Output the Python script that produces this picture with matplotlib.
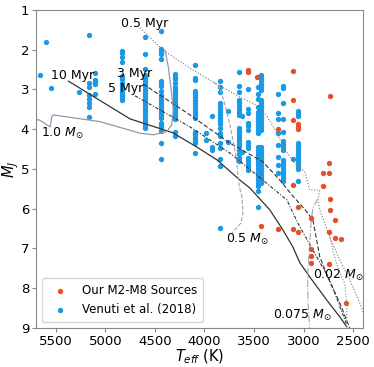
import numpy as np
import matplotlib
matplotlib.use("Agg")
from matplotlib import pyplot as plt

# Our M2-M8 sources (Teff in K, absolute J mag)
our_teff = [3559, 3559, 3468, 3108, 2738, 3108, 3262, 3111, 3061, 3061, 3061,
            2740, 2804, 2740, 2807, 3110, 2735, 3055, 2738, 2924, 2678, 3431,
            3262, 3111, 3055, 2742, 2678, 2624, 2924, 2924, 2927, 2742, 2567]
our_mj = [2.51, 2.56, 2.68, 2.53, 3.17, 3.26, 3.99, 3.77, 3.87, 3.94, 3.99,
          4.84, 5.11, 5.09, 5.42, 5.40, 5.75, 5.95, 6.03, 6.23, 6.28, 6.43,
          6.52, 6.52, 6.58, 6.58, 6.74, 6.77, 7.02, 7.18, 7.37, 7.39, 8.38]

# Venuti et al. (2018): one temperature per column of points
ven_teff = [5658, 5598, 5547, 5265, 5167, 5101, 4832, 4600, 4439, 4297, 4099,
            3985, 3928, 3847, 3844, 3766, 3652, 3619, 3559, 3464, 3431, 3262,
            3209, 3105, 3058]
ven_mj = [
    [2.64],
    [1.81],
    [2.96],
    [3.06],
    [1.62, 2.84, 2.94, 3.13, 3.25, 3.35, 3.45, 3.68],
    [2.59, 2.76, 2.82, 2.87, 3.12],
    [2.02, 2.09, 2.19, 2.32, 2.66, 2.74, 2.84, 2.91, 2.99, 3.06, 3.14, 3.20, 3.26],
    [1.67, 2.11, 2.49, 2.64, 2.71, 2.79, 2.86, 2.94, 3.01, 3.09, 3.16, 3.24, 3.31,
     3.39, 3.46, 3.54, 3.62, 3.69, 3.77, 3.84, 3.92, 3.97],
    [1.52, 1.99, 2.06, 2.11, 2.24, 2.79, 2.84, 2.91, 3.04, 3.14, 3.19, 3.26, 3.34,
     3.41, 3.49, 3.57, 3.64, 3.72, 3.84, 3.89, 3.95, 4.04, 4.34, 4.76],
    [2.62, 2.68, 2.74, 2.84, 2.93, 2.99, 3.06, 3.14, 3.21, 3.29, 3.36, 3.44, 3.52,
     3.59, 3.67, 3.74, 4.06, 4.17],
    [2.39, 2.70, 2.76, 3.04, 3.11, 3.19, 3.26, 3.34, 3.41, 3.49, 3.57, 3.64, 3.72,
     4.06, 4.12, 4.19, 4.24, 4.29, 4.35, 4.59],
    [4.09, 4.27],
    [3.67, 4.44, 4.52],
    [2.79, 2.94, 3.06, 3.34, 3.41, 3.49, 3.57, 3.64, 3.72, 3.79, 3.87, 3.97, 4.10,
     4.18, 4.35, 4.48, 4.76, 4.92],
    [6.48],
    [3.54, 4.31],
    [2.55, 2.91, 3.06, 3.26, 3.34, 3.41, 3.49, 3.57, 3.64, 3.97, 4.04, 4.12, 4.19,
     4.27, 4.35, 4.42, 4.52, 4.62, 4.72, 4.81],
    [3.67, 4.57],
    [3.00, 3.49, 3.59, 3.84, 3.93, 4.02, 4.31, 4.40, 4.48, 4.72, 4.80, 4.87, 4.95, 5.02],
    [2.93, 3.12, 3.25, 3.43, 3.56, 3.64, 3.72, 3.79, 3.87, 3.94, 4.02, 4.10, 4.44,
     4.52, 4.60, 4.67, 4.75, 4.82, 4.90, 4.97, 5.05, 5.13, 5.20, 5.28, 5.35, 5.44,
     5.55, 5.95],
    [2.64, 2.71, 2.79, 2.86, 2.94, 3.01, 3.26, 3.34, 3.41, 3.49, 3.57, 3.64, 3.72,
     3.79, 3.87, 3.94, 4.02, 4.44, 4.52, 4.60, 4.67, 4.75, 4.82, 4.90, 4.97, 5.05,
     5.13, 5.20, 5.28, 5.36],
    [3.12, 3.60, 3.75, 4.10, 4.40, 4.69, 4.90, 5.11],
    [2.91, 2.97, 3.33, 3.74, 4.06, 4.29, 4.37, 4.45, 4.52, 4.77, 4.85, 4.92, 5.00,
     5.07, 5.15, 5.23, 5.31],
    [4.75],
    [3.54, 3.60, 3.67, 4.34, 4.41, 4.48, 4.55, 4.62, 4.70, 4.77, 4.85, 4.92, 5.00, 5.31],
]

# isochrones
iso05_teff = [4650, 4418, 4116, 3914, 3642, 3441, 3370, 3269, 3189, 3088, 2987,
              2937, 2836, 2856, 2836, 2735, 2634, 2534, 2433, 2352]
iso05_mj = [1.45, 2.01, 2.51, 2.81, 3.19, 3.44, 3.67, 4.09, 4.52, 4.85, 5.08,
            5.53, 5.53, 5.78, 6.03, 6.71, 7.29, 7.79, 8.37, 8.92]
iso3_teff = [4620, 4146, 3743, 3410, 3239, 3118, 2977, 2957, 2906, 2836, 2735, 2634, 2534]
iso3_mj = [2.86, 3.64, 4.35, 4.82, 5.28, 5.65, 6.05, 6.11, 6.28, 7.21, 7.84, 8.37, 9.00]
iso5_teff = [4701, 4146, 3743, 3410, 3168, 3058, 2906, 2735, 2564]
iso5_mj = [3.16, 3.94, 4.60, 5.28, 5.78, 6.36, 7.04, 7.79, 8.92]
iso10_teff = [5373, 4751, 4318, 4076, 3874, 3642, 3541, 3340, 3209, 3108, 3037,
              2936, 2765, 2634, 2564]
iso10_mj = [2.79, 3.74, 4.09, 4.45, 4.77, 5.28, 5.48, 6.03, 6.53, 6.96, 7.36,
            7.72, 8.30, 8.72, 8.97]

# mass tracks
m10_teff = [4398, 4365, 4331, 4315, 4331, 4381, 4516, 4650, 5053, 5524, 5540, 5557, 5665, 5800]
m10_mj = [2.01, 2.43, 3.10, 3.52, 3.89, 4.06, 4.14, 4.10, 3.81, 3.64, 3.68, 3.94, 3.77, 3.70]
m05_teff = [3914, 3844, 3793, 3743, 3683, 3649, 3622, 3612, 3632, 3693, 3723]
m05_mj = [2.81, 2.94, 3.39, 3.89, 4.65, 5.44, 5.70, 6.11, 6.36, 6.53, 6.61]
m0075_teff = [2856, 2906, 2927, 2937, 2957, 2957, 2937]
m0075_mj = [5.75, 5.98, 6.41, 6.91, 7.54, 8.30, 9.05]
m002_teff = [2735, 2695, 2634, 2584, 2564, 2564]
m002_mj = [6.71, 7.14, 7.62, 7.89, 8.37, 9.05]

ven_x = []
ven_y = []
for t, col in zip(ven_teff, ven_mj):
    for m in col:
        ven_x.append(t)
        ven_y.append(m)

fig = plt.figure(figsize=(3.74, 3.67), dpi=100)
ax = fig.add_axes([0.0963, 0.1063, 0.8743, 0.8665])

red = '#e4512b'
blue = '#1a9ae6'

ax.scatter(our_teff, our_mj, s=8, color=red, zorder=4, label='Our M2-M8 Sources')
ax.scatter(ven_x, ven_y, s=8, color=blue, zorder=2, label='Venuti et al. (2018)')

# isochrones
ax.plot(iso05_teff, iso05_mj, color='#777777', ls=':', lw=0.8, zorder=3)
ax.plot(iso3_teff, iso3_mj, color='#333333', ls=(0, (4, 2)), lw=0.8, zorder=3)
ax.plot(iso5_teff, iso5_mj, color='#333333', ls=(0, (3, 1.5, 1, 1.5)), lw=0.8, zorder=3)
ax.plot(iso10_teff, iso10_mj, color='#333333', ls='-', lw=0.9, zorder=3)
# mass tracks
ax.plot(m10_teff, m10_mj, color='#8e9aae', ls='-', lw=0.9, zorder=3)
ax.plot(m05_teff, m05_mj, color='#a0a4ac', ls='--', lw=0.8, zorder=3)
ax.plot(m0075_teff, m0075_mj, color='#9aa6ba', ls='-.', lw=0.8, zorder=3)
ax.plot(m002_teff, m002_mj, color='#8a8a8a', ls=':', lw=0.8, zorder=3)

fs = 9
ax.text(4845, 1.34, '0.5 Myr', fontsize=fs, va='center')
ax.text(5550, 2.64, '10 Myr', fontsize=fs, va='center')
ax.text(4885, 2.61, '3 Myr', fontsize=fs, va='center')
ax.text(4970, 2.97, '5 Myr', fontsize=fs, va='center')
ax.text(5651, 4.10, r'1.0 $M_{\odot}$', fontsize=fs, va='center')
ax.text(3783, 6.77, r'0.5 $M_{\odot}$', fontsize=fs, va='center')
ax.text(2903, 7.68, r'0.02 $M_{\odot}$', fontsize=fs, va='center')
ax.text(3313, 8.69, r'0.075 $M_{\odot}$', fontsize=fs, va='center')

ax.set_xlim(5700, 2400)
ax.set_ylim(9, 1)
ax.set_xticks([5500, 5000, 4500, 4000, 3500, 3000, 2500])
ax.set_yticks([1, 2, 3, 4, 5, 6, 7, 8, 9])
ax.tick_params(labelsize=9.5, color='#888888', length=3, pad=2)
for s in ax.spines.values():
    s.set_color('#888888')
ax.set_xlabel(r'$T_{eff}$ (K)', fontsize=10.5, labelpad=0)
ax.set_ylabel(r'$M_J$', fontsize=10.5, labelpad=0)

ax.legend(loc='lower left', fontsize=8.5, handletextpad=0.9, borderpad=0.5)

fig.savefig('out.png', dpi=100)
